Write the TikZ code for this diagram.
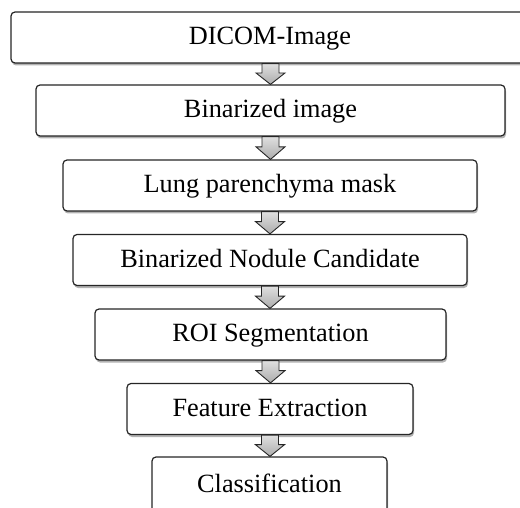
\documentclass[tikz,border=0pt]{standalone}
\usepackage{fontspec}
\setmainfont{Liberation Serif}
\usetikzlibrary{shadows,calc}

% block arrow from the bottom of one stage to the top of the next
\newcommand\flowstep[2]{%
  \path[flowarrow] let \p1=(#1.south), \p2=(#2.north), \n1={\y1-\y2} in
    (\x1-8.5pt,\y1) -- (\x1+8.5pt,\y1) -- (\x1+8.5pt,\y1-0.45*\n1)
    -- (\x1+14.5pt,\y1-0.45*\n1) -- (\x1,\y2) -- (\x1-14.5pt,\y1-0.45*\n1)
    -- (\x1-8.5pt,\y1-0.45*\n1) -- cycle;}

\begin{document}
\begin{tikzpicture}[x=1pt,y=-1pt,
  stage/.style={draw=black!85, line width=1.2pt, rounded corners=4pt, fill=white,
    font=\fontsize{26.3}{30}\selectfont, text height=18.5pt, text depth=4.5pt,
    minimum height=51pt, inner sep=0pt,
    drop shadow={shadow xshift=1pt, shadow yshift=-2.5pt, opacity=0.3, fill=black}},
  flowarrow/.style={draw=black!85, line width=0.9pt, line join=miter,
    top color=gray!25, bottom color=gray!65}]

\useasboundingbox (0,0) rectangle (520,508);
\clip (0,0) rectangle (520,508);

% the top stage runs past the right edge; its label stays on the common axis
\node[stage, minimum width=540pt] (dicom)    at (281,37.5)  {\hspace*{-22pt}DICOM-Image};
\node[stage, minimum width=469pt] (binimg)   at (270.5,110.5) {Binarized image};
\node[stage, minimum width=414pt] (lungmask) at (270,185.5) {Lung parenchyma mask};
\node[stage, minimum width=394pt] (nodule)   at (270,260)   {Binarized Nodule Candidate};
\node[stage, minimum width=351pt] (roi)      at (270.5,334.5) {ROI Segmentation};
\node[stage, minimum width=286pt] (feature)  at (270,409)   {Feature Extraction};
\node[stage, minimum width=235pt, minimum height=56pt] (classif) at (269.5,485) {Classification};

\coordinate (axis) at (binimg.south);
\path[flowarrow] let \p1=(axis), \p2=(dicom.south), \p3=(binimg.north), \n1={\y2-\y3} in
    (\x1-8.5pt,\y2) -- (\x1+8.5pt,\y2) -- (\x1+8.5pt,\y2-0.45*\n1)
    -- (\x1+14.5pt,\y2-0.45*\n1) -- (\x1,\y3) -- (\x1-14.5pt,\y2-0.45*\n1)
    -- (\x1-8.5pt,\y2-0.45*\n1) -- cycle;
\flowstep{binimg}{lungmask}
\flowstep{lungmask}{nodule}
\flowstep{nodule}{roi}
\flowstep{roi}{feature}
\flowstep{feature}{classif}

\end{tikzpicture}
\end{document}
